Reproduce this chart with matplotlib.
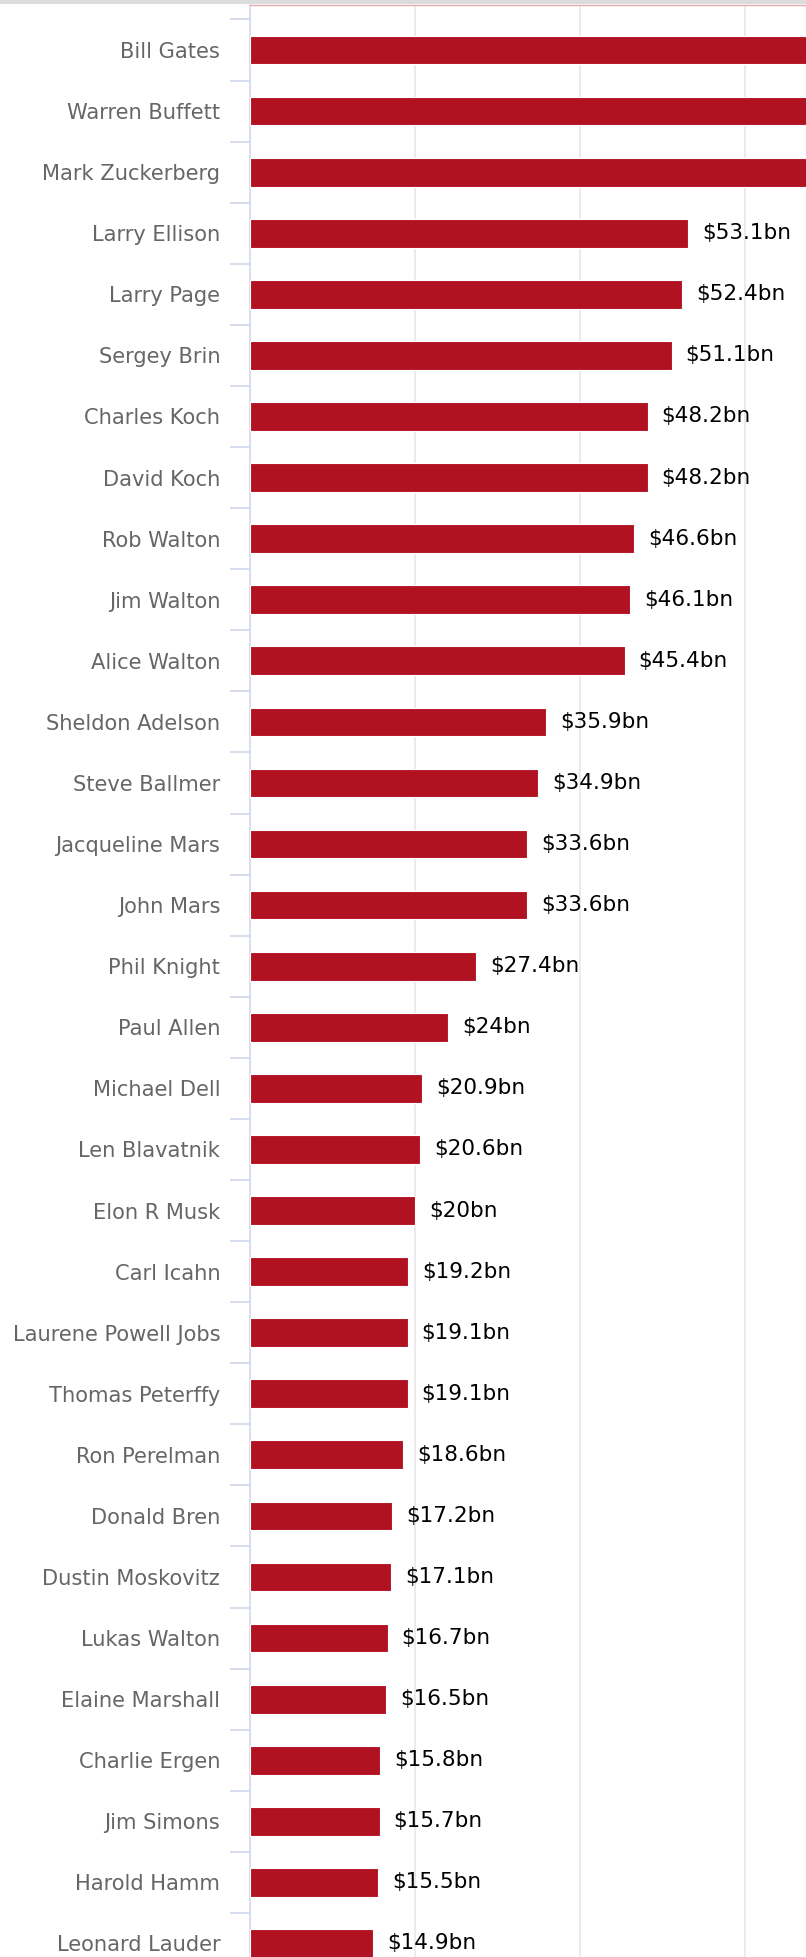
import matplotlib
matplotlib.use("Agg")
import matplotlib.pyplot as plt
from matplotlib.patches import Rectangle
import numpy as np

# Net worth of the richest Americans, in billions of US dollars
names = [
    "Bill Gates", "Warren Buffett", "Mark Zuckerberg", "Larry Ellison",
    "Larry Page", "Sergey Brin", "Charles Koch", "David Koch",
    "Rob Walton", "Jim Walton", "Alice Walton", "Sheldon Adelson",
    "Steve Ballmer", "Jacqueline Mars", "John Mars", "Phil Knight",
    "Paul Allen", "Michael Dell", "Len Blavatnik", "Elon R Musk",
    "Carl Icahn", "Laurene Powell Jobs", "Thomas Peterffy", "Ron Perelman",
    "Donald Bren", "Dustin Moskovitz", "Lukas Walton", "Elaine Marshall",
    "Charlie Ergen", "Jim Simons", "Harold Hamm", "Leonard Lauder",
]
net_worth = [
    89.9, 78.5, 73.9, 53.1,
    52.4, 51.1, 48.2, 48.2,
    46.6, 46.1, 45.4, 35.9,
    34.9, 33.6, 33.6, 27.4,
    24, 20.9, 20.6, 20,
    19.2, 19.1, 19.1, 18.6,
    17.2, 17.1, 16.7, 16.5,
    15.8, 15.7, 15.5, 14.9,
]
grid_values = [20, 40, 60]

W, H = 806, 1957
DPI = 100
fig = plt.figure(figsize=(W / DPI, H / DPI), dpi=DPI)
fig.patch.set_facecolor("white")

# plot area geometry (pixels)
left_px = 250
top_px = 4.5
px_per_bn = 8.25
row_px = 61.08
first_center_px = 50

ax = fig.add_axes([left_px / W, 0, 1 - left_px / W, 1 - top_px / H])

ypos = np.arange(len(names))
bar_color = "#B11222"
ax.barh(ypos, net_worth, height=0.47, color=bar_color,
        edgecolor="white", linewidth=0.8, zorder=3)

for y, v in zip(ypos, net_worth):
    ax.annotate(f"${v:g}bn", xy=(v, y), xytext=(10, 0),
                textcoords="offset points", va="center", ha="left",
                fontsize=15.5, color="black", clip_on=True, zorder=4,
                annotation_clip=True)

# vertical grid lines
ax.set_xticks(grid_values)
ax.xaxis.grid(True, color="#e6e6e6", linewidth=1.1, zorder=0)
ax.tick_params(axis="x", length=0, labelbottom=False)

# category labels and boundary ticks
ax.set_yticks(ypos)
ax.set_yticklabels(names)
ax.set_yticks(ypos - 0.5, minor=True)
ax.tick_params(axis="y", which="major", length=0, pad=21.5,
               labelsize=15.1, labelcolor="#666666")
ax.tick_params(axis="y", which="minor", length=14.4, width=1.1,
               color="#ccd6eb")

# view limits set last so tick placement cannot widen them
ax.set_xlim(0, (W - left_px) / px_per_bn)
y_top = -(first_center_px - top_px) / row_px
y_bot = (H - first_center_px) / row_px
ax.set_ylim(y_bot, y_top)

for side in ("right", "bottom"):
    ax.spines[side].set_visible(False)
ax.spines["left"].set_color("#ccd6eb")
ax.spines["left"].set_linewidth(1.1)
ax.spines["top"].set_color("#eaa6ad")
ax.spines["top"].set_linewidth(1.0)
ax.set_axisbelow(True)

# thin grey band along the top edge
fig.add_artist(Rectangle((0, 1 - 4 / H), 1, 4 / H, transform=fig.transFigure,
                         facecolor="#dcdcdc", edgecolor="none", zorder=10))

fig.savefig("out.png", dpi=DPI, facecolor="white")
